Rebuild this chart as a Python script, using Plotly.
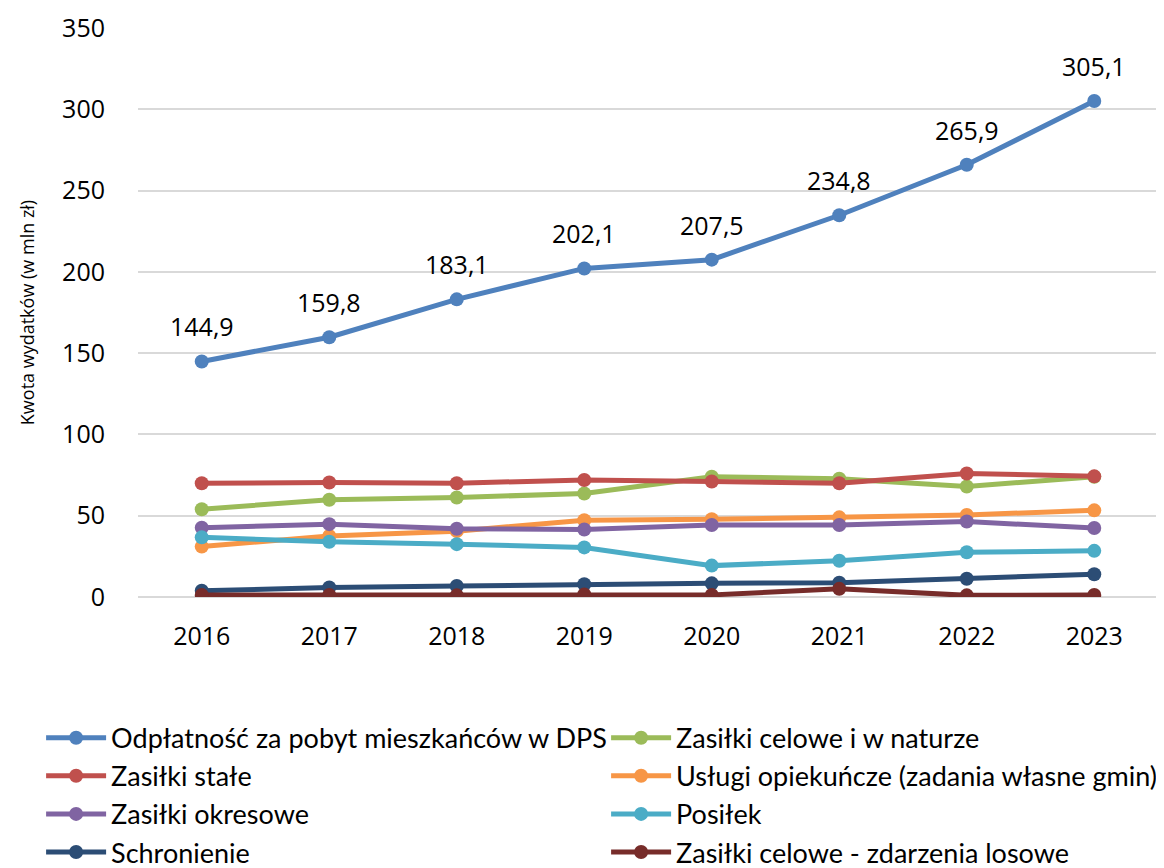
import plotly.graph_objects as go

years = [2016, 2017, 2018, 2019, 2020, 2021, 2022, 2023]

odplatnosc_dps = [144.9, 159.8, 183.1, 202.1, 207.5, 234.8, 265.9, 305.1]
zasilki_celowe_naturze = [54.0, 59.8, 61.2, 63.7, 74.0, 72.8, 68.0, 74.0]
zasilki_stale = [70.0, 70.4, 70.0, 72.0, 71.0, 70.0, 76.0, 74.2]
uslugi_opiekuncze = [31.0, 37.5, 40.5, 47.2, 47.8, 49.0, 50.5, 53.3]
zasilki_okresowe = [42.6, 44.8, 42.0, 41.5, 44.3, 44.3, 46.4, 42.4]
posilek = [36.7, 34.0, 32.5, 30.5, 19.3, 22.3, 27.5, 28.4]
schronienie = [3.8, 5.8, 6.8, 7.8, 8.4, 8.8, 11.2, 14.0]
zdarzenia_losowe = [1.2, 1.2, 1.0, 1.6, 1.3, 5.0, 1.0, 1.2]

series_names = [
    "Odpłatność za pobyt mieszkańców w DPS",
    "Zasiłki celowe i w naturze",
    "Zasiłki stałe",
    "Usługi opiekuńcze (zadania własne gmin)",
    "Zasiłki okresowe",
    "Posiłek",
    "Schronienie",
    "Zasiłki celowe - zdarzenia losowe",
]
series_values = [
    odplatnosc_dps, zasilki_celowe_naturze, zasilki_stale, uslugi_opiekuncze,
    zasilki_okresowe, posilek, schronienie, zdarzenia_losowe,
]
colors = ["#4f81bd", "#9bbb59", "#c0504d", "#f79646", "#8064a2", "#4bacc6", "#2c4d75", "#772c2a"]

y_ticks = [0, 50, 100, 150, 200, 250, 300, 350]

FONT = "Open Sans"

fig = go.Figure()
for name, vals, col in zip(series_names, series_values, colors):
    fig.add_trace(go.Scatter(
        x=years, y=vals, name=name, mode="lines+markers",
        line=dict(color=col, width=5),
        marker=dict(color=col, size=14),
    ))

for yr, v in zip(years, odplatnosc_dps):
    fig.add_annotation(
        x=yr, y=v, text=f"{v:.1f}".replace(".", ","), showarrow=False,
        yshift=35, font=dict(family=FONT, size=25, color="#000000"),
    )

fig.update_layout(
    width=1156, height=860,
    paper_bgcolor="white", plot_bgcolor="white",
    margin=dict(l=130, r=6, t=20, b=271, autoexpand=False),
    font=dict(family=FONT, size=25, color="#000000"),
    showlegend=True,
    legend=dict(
        orientation="h", x=-0.095, xanchor="left", y=-0.205, yanchor="top",
        entrywidth=490, entrywidthmode="pixels",
        font=dict(family="Lato", size=27, color="#000000"),
        itemwidth=60, tracegroupgap=0,
    ),
)
fig.update_xaxes(
    range=[2015.5, 2023.5], tickvals=years, ticktext=[str(y) for y in years],
    showgrid=False, showline=False, ticks="", zeroline=False, automargin=False,
    tickfont=dict(family=FONT, size=25), ticklabelstandoff=22,
)
fig.update_yaxes(
    range=[0, 350], tickvals=y_ticks, showgrid=True, gridcolor="#d9d9d9", gridwidth=1.5,
    zeroline=True, zerolinecolor="#d9d9d9", zerolinewidth=1.5,
    showline=False, ticks="", automargin=False,
    title=dict(text="Kwota wydatków (w mln zł)", font=dict(family=FONT, size=18), standoff=22),
    tickfont=dict(family=FONT, size=25), ticklabelstandoff=32,
)

fig.write_html("out.html")
